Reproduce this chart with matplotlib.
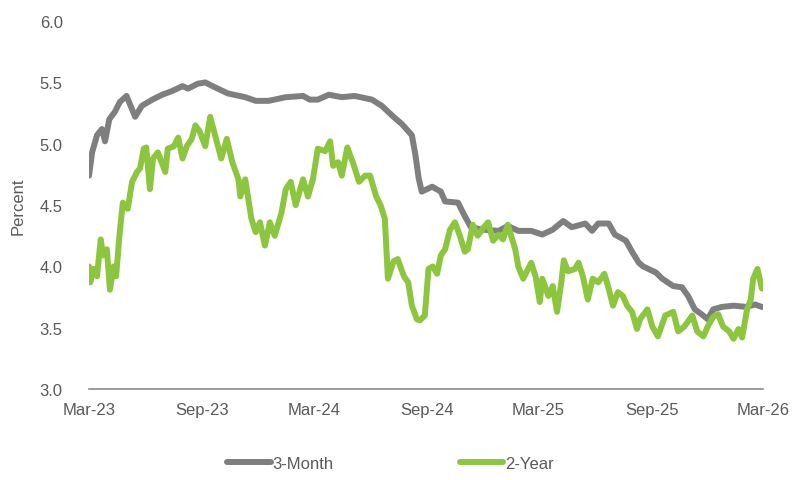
import numpy as np
import pandas as pd
import matplotlib
matplotlib.use("Agg")
import matplotlib.pyplot as plt
import matplotlib.dates as mdates

plt.rcParams['font.family'] = ['Liberation Sans', 'DejaVu Sans']

######################  DATA  ######################
# 3-Month Treasury yield (percent)
bill_dates = ["2023-03-01", "2023-03-06", "2023-03-14", "2023-03-22", "2023-03-27", "2023-04-03",
              "2023-04-12", "2023-04-20", "2023-05-01", "2023-05-10", "2023-05-15", "2023-05-26",
              "2023-06-12", "2023-06-28", "2023-07-14", "2023-07-31", "2023-08-09", "2023-08-25",
              "2023-09-06", "2023-09-22", "2023-10-13", "2023-11-10", "2023-11-27", "2023-12-18",
              "2024-01-15", "2024-02-12", "2024-02-23", "2024-03-07", "2024-03-25", "2024-04-15",
              "2024-05-06", "2024-06-03", "2024-06-19", "2024-07-08", "2024-07-22", "2024-08-07",
              "2024-08-13", "2024-08-18", "2024-08-23", "2024-09-09", "2024-09-23", "2024-09-30",
              "2024-10-21", "2024-11-01", "2024-11-11", "2024-11-29", "2024-12-26", "2025-01-10",
              "2025-01-27", "2025-02-17", "2025-03-07", "2025-03-24", "2025-04-10", "2025-04-24",
              "2025-05-16", "2025-05-27", "2025-06-06", "2025-06-23", "2025-07-03", "2025-07-21",
              "2025-07-31", "2025-08-11", "2025-08-18", "2025-09-08", "2025-09-18", "2025-10-06",
              "2025-10-20", "2025-10-30", "2025-11-10", "2025-11-21", "2025-12-01", "2025-12-10",
              "2025-12-24", "2026-01-12", "2026-02-02", "2026-02-16", "2026-02-27"]
bill_3m = [4.74, 4.93, 5.07, 5.12, 5.02, 5.20,
           5.26, 5.34, 5.39, 5.28, 5.22, 5.31,
           5.36, 5.40, 5.43, 5.47, 5.45, 5.49,
           5.50, 5.46, 5.41, 5.38, 5.35, 5.35,
           5.38, 5.39, 5.36, 5.36, 5.40, 5.38,
           5.39, 5.36, 5.31, 5.22, 5.16, 5.07,
           4.90, 4.72, 4.61, 4.65, 4.61, 4.53,
           4.52, 4.41, 4.32, 4.30, 4.29, 4.33,
           4.29, 4.29, 4.26, 4.30, 4.37, 4.32,
           4.35, 4.29, 4.35, 4.35, 4.26, 4.21,
           4.12, 4.03, 4.00, 3.95, 3.90, 3.84,
           3.83, 3.76, 3.65, 3.61, 3.57, 3.65,
           3.67, 3.68, 3.67, 3.69, 3.67]

# 2-Year Treasury yield (percent)
note_dates = ["2023-03-01", "2023-03-03", "2023-03-08", "2023-03-14", "2023-03-20", "2023-03-24",
              "2023-03-30", "2023-04-04", "2023-04-10", "2023-04-14", "2023-04-20", "2023-04-25",
              "2023-05-03", "2023-05-10", "2023-05-18", "2023-05-23", "2023-05-29", "2023-06-02",
              "2023-06-08", "2023-06-13", "2023-06-21", "2023-07-03", "2023-07-07", "2023-07-17",
              "2023-07-24", "2023-07-31", "2023-08-07", "2023-08-15", "2023-08-21", "2023-08-28",
              "2023-09-06", "2023-09-14", "2023-09-22", "2023-10-02", "2023-10-11", "2023-10-20",
              "2023-10-30", "2023-11-02", "2023-11-10", "2023-11-20", "2023-11-27", "2023-12-04",
              "2023-12-12", "2023-12-20", "2023-12-28", "2024-01-08", "2024-01-15", "2024-01-23",
              "2024-01-31", "2024-02-12", "2024-02-20", "2024-02-28", "2024-03-07", "2024-03-19",
              "2024-03-27", "2024-04-01", "2024-04-09", "2024-04-15", "2024-04-24", "2024-04-29",
              "2024-05-03", "2024-05-13", "2024-05-23", "2024-05-31", "2024-06-10", "2024-06-17",
              "2024-06-24", "2024-06-29", "2024-07-08", "2024-07-15", "2024-07-25", "2024-08-01",
              "2024-08-07", "2024-08-15", "2024-08-20", "2024-08-28", "2024-09-03", "2024-09-10",
              "2024-09-17", "2024-09-23", "2024-09-30", "2024-10-08", "2024-10-16", "2024-10-24",
              "2024-11-01", "2024-11-06", "2024-11-14", "2024-11-22", "2024-12-02", "2024-12-09",
              "2024-12-17", "2024-12-26", "2025-01-02", "2025-01-10", "2025-01-22", "2025-01-27",
              "2025-02-04", "2025-02-12", "2025-02-17", "2025-02-24", "2025-03-03", "2025-03-07",
              "2025-03-17", "2025-03-24", "2025-03-31", "2025-04-07", "2025-04-11", "2025-04-18",
              "2025-04-29", "2025-05-05", "2025-05-12", "2025-05-20", "2025-05-28", "2025-06-06",
              "2025-06-16", "2025-06-23", "2025-06-30", "2025-07-08", "2025-07-16", "2025-07-23",
              "2025-07-31", "2025-08-08", "2025-08-13", "2025-08-25", "2025-09-02", "2025-09-11",
              "2025-09-23", "2025-10-06", "2025-10-14", "2025-10-24", "2025-11-06", "2025-11-14",
              "2025-11-24", "2025-12-01", "2025-12-10", "2025-12-18", "2025-12-26", "2026-01-05",
              "2026-01-12", "2026-01-20", "2026-01-26", "2026-02-03", "2026-02-09", "2026-02-13",
              "2026-02-20", "2026-02-27"]
note_2y = [4.00, 3.87, 3.98, 3.92, 4.22, 4.09,
           4.14, 3.81, 4.00, 3.92, 4.28, 4.52,
           4.47, 4.69, 4.77, 4.80, 4.96, 4.97,
           4.63, 4.88, 4.93, 4.77, 4.96, 4.98,
           5.05, 4.88, 4.98, 5.04, 5.15, 5.10,
           4.98, 5.22, 5.07, 4.88, 5.04, 4.85,
           4.71, 4.57, 4.71, 4.39, 4.28, 4.36,
           4.17, 4.36, 4.25, 4.44, 4.63, 4.69,
           4.50, 4.71, 4.57, 4.71, 4.96, 4.94,
           5.02, 4.82, 4.85, 4.74, 4.97, 4.90,
           4.85, 4.69, 4.74, 4.74, 4.57, 4.50,
           4.39, 3.90, 4.04, 4.06, 3.92, 3.87,
           3.68, 3.57, 3.56, 3.60, 3.98, 4.00,
           3.94, 4.09, 4.14, 4.30, 4.36, 4.25,
           4.12, 4.14, 4.34, 4.25, 4.32, 4.36,
           4.21, 4.26, 4.22, 4.34, 4.14, 4.00,
           3.90, 3.98, 4.03, 3.92, 3.71, 3.90,
           3.76, 3.84, 3.63, 3.87, 4.05, 3.96,
           3.98, 4.03, 3.92, 3.73, 3.90, 3.87,
           3.94, 3.82, 3.68, 3.79, 3.76, 3.68,
           3.63, 3.49, 3.57, 3.65, 3.51, 3.43,
           3.60, 3.63, 3.47, 3.51, 3.60, 3.47,
           3.43, 3.51, 3.59, 3.61, 3.51, 3.47,
           3.41, 3.49, 3.42, 3.65, 3.73, 3.90,
           3.98, 3.82]

series_names = ["3-Month", "2-Year"]
series_colors = ["#7f7f80", "#8cc63f"]

######################  PLOT  ######################
fig = plt.figure(figsize=(7.97, 4.81), dpi=100)
ax = fig.add_axes([0.1117, 0.189, 0.8457, 0.765])

ax.plot(pd.to_datetime(bill_dates), bill_3m, color=series_colors[0], lw=4.3,
        solid_capstyle='round', solid_joinstyle='round', label=series_names[0])
ax.plot(pd.to_datetime(note_dates), note_2y, color=series_colors[1], lw=4.3,
        solid_capstyle='round', solid_joinstyle='round', label=series_names[1])

ax.set_xlim(pd.Timestamp("2023-03-01"), pd.Timestamp("2026-03-01"))
ax.set_ylim(3.0, 6.0)
ax.set_yticks(np.arange(3.0, 6.01, 0.5))
ax.yaxis.set_major_formatter(plt.FormatStrFormatter('%.1f'))
ax.xaxis.set_major_locator(mdates.MonthLocator(bymonth=[3, 9]))
ax.xaxis.set_major_formatter(mdates.DateFormatter('%b-%y'))

for s in ['top', 'right', 'left']:
    ax.spines[s].set_visible(False)
ax.spines['bottom'].set_color('#8c8c8c')
ax.spines['bottom'].set_linewidth(1.2)
ax.tick_params(axis='both', length=0, labelsize=12, colors='#595959')
ax.tick_params(axis='y', pad=19)
ax.tick_params(axis='x', pad=9)
ax.set_ylabel("Percent", fontsize=12, color='#595959', labelpad=10)

fig.legend(loc='lower center', bbox_to_anchor=(0.49, -0.012), ncol=2, frameon=False,
           fontsize=12, handlelength=2.6, columnspacing=7.6, handletextpad=0.1,
           labelcolor='#595959')

fig.savefig("out.png", dpi=100)
